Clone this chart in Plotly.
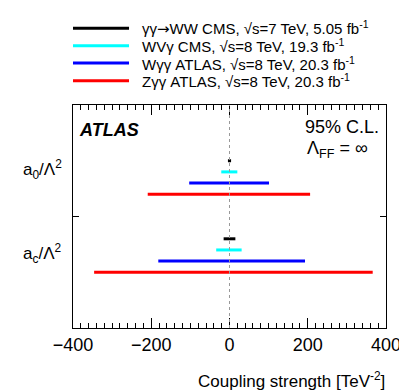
import plotly.graph_objects as go

# Limits on anomalous quartic couplings [TeV^-2]
coupling_labels = ["a<sub>0</sub>/Λ<sup>2</sup>", "a<sub>c</sub>/Λ<sup>2</sup>"]
coupling_pos = [1.42, 0.67]

experiments = [
    "γγ<span style=\"font-family:DejaVu Sans\">→</span>WW CMS, √s=7 TeV, 5.05 fb<sup>-1</sup>",
    "WVγ CMS, √s=8 TeV, 19.3 fb<sup>-1</sup>",
    "Wγγ ATLAS, √s=8 TeV, 20.3 fb<sup>-1</sup>",
    "Zγγ ATLAS, √s=8 TeV, 20.3 fb<sup>-1</sup>",
]
colors = ["black", "cyan", "blue", "red"]

# [low, high] per experiment
a0_limits = [[-4, 4], [-21, 20], [-103, 101], [-209, 206]]
ac_limits = [[-15, 15], [-34, 31], [-182, 193], [-346, 366]]
a0_rows = [1.5, 1.4, 1.3, 1.2]
ac_rows = [0.8, 0.7, 0.6, 0.5]

FONT = "Liberation Sans, Arial, sans-serif"

fig = go.Figure()

for i, name in enumerate(experiments):
    for limits, rows in [(a0_limits, a0_rows), (ac_limits, ac_rows)]:
        fig.add_trace(go.Scatter(
            x=limits[i],
            y=[rows[i], rows[i]],
            mode="lines",
            line=dict(color=colors[i], width=3),
            name=name,
            showlegend=False,
            hoverinfo="skip",
        ))

# legend drawn by hand above the frame (ROOT style, long lines)
legend_y = [1.344, 1.266, 1.188, 1.109]
for name, color, ly in zip(experiments, colors, legend_y):
    fig.add_shape(type="line", xref="paper", yref="paper",
                  x0=0.0, x1=0.179, y0=ly, y1=ly,
                  line=dict(color=color, width=3))
    fig.add_annotation(x=0.214, y=ly, xref="paper", yref="paper", text=name,
                       showarrow=False, xanchor="left", yanchor="middle",
                       font=dict(family=FONT, size=15, color="black"))

# dotted line at zero
fig.add_vline(x=0, line=dict(color="#999999", width=1, dash="dot"))

fig.add_annotation(x=0.012, y=0.888, xref="paper", yref="paper", text="<b><i>ATLAS</i></b>",
                   showarrow=False, xanchor="left", yanchor="middle",
                   font=dict(family=FONT, size=18, color="black"))
fig.add_annotation(x=0.983, y=0.90, xref="paper", yref="paper", text="95% C.L.",
                   showarrow=False, xanchor="right", yanchor="middle",
                   font=dict(family=FONT, size=18, color="black"))
fig.add_annotation(x=0.95, y=0.80, xref="paper", yref="paper", text="Λ<sub>FF</sub> = ∞",
                   showarrow=False, xanchor="right", yanchor="middle",
                   font=dict(family=FONT, size=18, color="black"))

for label, pos in zip(coupling_labels, coupling_pos):
    fig.add_annotation(x=-0.03, y=pos, xref="paper", yref="y", text=label,
                       showarrow=False, xanchor="right", yanchor="middle",
                       font=dict(family=FONT, size=17, color="black"))

fig.add_annotation(x=1.003, y=-0.233, xref="paper", yref="paper",
                   text="Coupling strength [TeV<sup>-2</sup>]",
                   showarrow=False, xanchor="right", yanchor="middle",
                   font=dict(family=FONT, size=17, color="black"))

fig.update_xaxes(
    range=[-400, 400], tickvals=[-400, -200, 0, 200, 400],
    ticktext=["−400", "−200", "0", "200", "400"],
    ticks="inside", ticklen=10, tickcolor="black", tickwidth=1,
    minor=dict(dtick=20, ticks="inside", ticklen=5, tickcolor="black"),
    showline=True, linecolor="black", linewidth=1, mirror="allticks",
    showgrid=False, zeroline=False,
    tickfont=dict(family=FONT, size=18, color="black"),
)
fig.update_yaxes(
    range=[0, 2], tickvals=[1], showticklabels=False,
    ticks="inside", ticklen=6, tickcolor="black",
    showline=True, linecolor="black", linewidth=1, mirror="allticks",
    showgrid=False, zeroline=False,
)

# page body has an 8px margin, so the figure is 8px smaller on each axis
fig.update_layout(
    width=399, height=383,
    margin=dict(l=65, r=21, t=97, b=63, autoexpand=False),
    plot_bgcolor="white", paper_bgcolor="white",
    font=dict(family=FONT, color="black"),
    showlegend=False,
)

fig.write_html("out.html")
